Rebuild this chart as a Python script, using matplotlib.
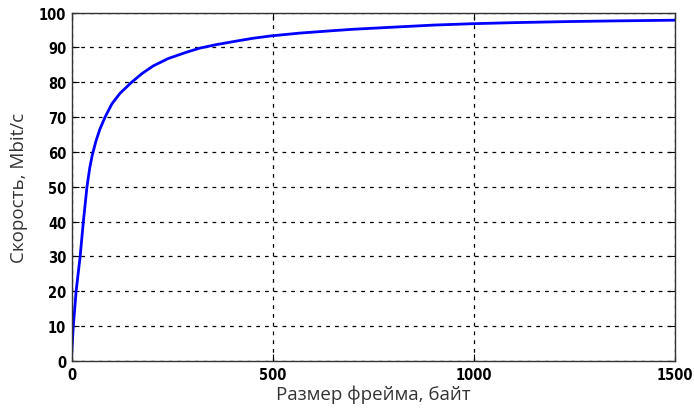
import matplotlib
matplotlib.use("Agg")
import matplotlib.pyplot as plt

frame_size = [0, 4, 11, 21, 29, 38, 45, 51, 60, 70, 83, 100, 120, 149, 175, 203, 240, 285, 319, 360, 409, 450,
              496, 567, 650, 700, 816, 900, 998, 1100, 1231, 1350, 1500]
speed = [2, 10, 20, 30, 40, 50, 55.5, 59, 63, 66.5, 70, 73.8, 76.8, 80, 82.5, 84.7, 86.8, 88.6, 89.8, 90.8, 91.8, 92.6,
         93.3, 94.1, 94.8, 95.2, 95.9, 96.4, 96.8, 97.1, 97.4, 97.6, 97.8]
x_ticks = [0, 500, 1000, 1500]
y_ticks = [0, 10, 20, 30, 40, 50, 60, 70, 80, 90, 100]
xlabel = "Размер фрейма, байт"
ylabel = "Скорость, Mbit/c"

fig = plt.figure(figsize=(6.94, 4.10), dpi=100)
ax = fig.add_axes([0.1033, 0.117, 0.8693, 0.850])
ax.plot(frame_size, speed, color="#0000ff", linewidth=2)
ax.set_xlim(0, 1500)
ax.set_ylim(0, 100)
ax.set_xticks(x_ticks)
ax.set_yticks(y_ticks)
ax.grid(True, color="black", linestyle=(0, (3, 4)), linewidth=0.9)
ax.tick_params(direction="in", length=5, top=True, right=True, width=0.8, pad=4)
for lab in ax.get_xticklabels() + ax.get_yticklabels():
    lab.set_fontweight("bold")
    lab.set_fontsize(10.5)
    lab.set_fontfamily("DejaVu Sans")
    lab.set_fontstretch("condensed")
ax.set_xlabel(xlabel, fontsize=13.5, fontfamily="Open Sans", color="#333333", labelpad=2)
ax.set_ylabel(ylabel, fontsize=13.5, fontfamily="Open Sans", color="#333333", labelpad=8)
for s in ax.spines.values():
    s.set_color("#333333")
    s.set_linewidth(1.0)
fig.savefig("out.png", dpi=100)
